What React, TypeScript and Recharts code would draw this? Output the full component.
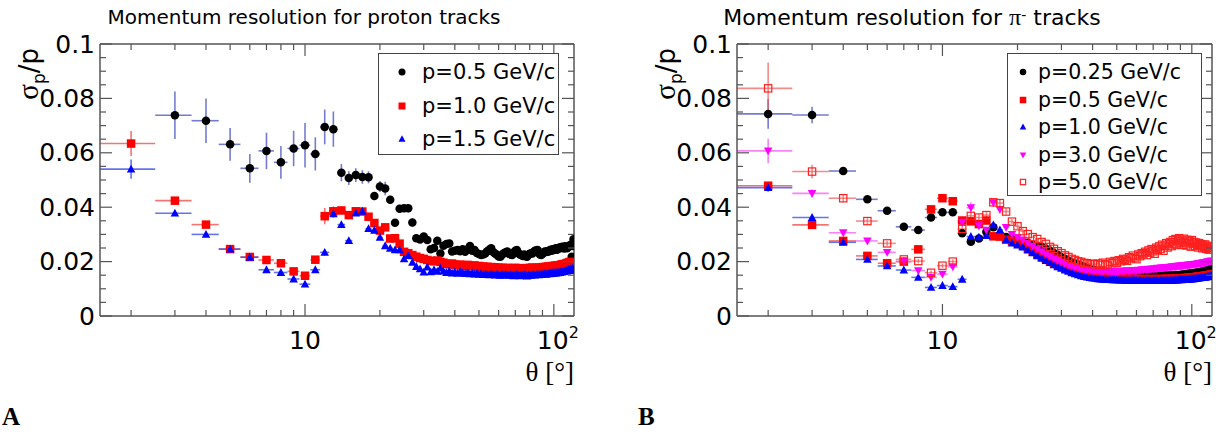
import React from 'react';
import { ScatterChart, Scatter, XAxis, YAxis, ErrorBar, ReferenceLine, Legend } from 'recharts';

// ---------------- data ----------------
const ANGLES = [
  2, 3, 4, 5, 6, 7, 8, 9, 10, 11,
  12, 13, 14, 15, 16, 17, 18, 19, 20, 21,
  22, 23, 24, 25, 26, 27, 28, 29, 30, 31,
  32, 33, 34, 35, 36, 37, 38, 39, 40, 41,
  42, 43, 44, 45, 46, 47, 48, 49, 50, 51,
  52, 53, 54, 55, 56, 57, 58, 59, 60, 61,
  62, 63, 64, 65, 66, 67, 68, 69, 70, 71,
  72, 73, 74, 75, 76, 77, 78, 79, 80, 81,
  82, 83, 84, 85, 86, 87, 88, 89, 90, 91,
  92, 93, 94, 95, 96, 97, 98, 99, 100, 101,
  102, 103, 104, 105, 106, 107, 108, 109, 110, 111,
  112, 113, 114, 115, 116, 117, 118, 119, 120,
];

// Panel A: protons
const PROTON_P05 = [
  null, 0.0738, 0.0718, 0.0631, 0.0543, 0.0607, 0.0565, 0.0616, 0.0628, 0.0596,
  0.0695, 0.0687, 0.0527, 0.0507, 0.0518, 0.0511, 0.0510, 0.0441, 0.0476, 0.0469,
  0.0427, 0.0343, 0.0394, 0.0396, 0.0396, 0.0344, 0.0286, 0.0281, 0.0292, 0.0279,
  0.0245, 0.0250, 0.0277, 0.0230, 0.0258, 0.0265, 0.0267, 0.0237, 0.0240, 0.0243,
  0.0238, 0.0245, 0.0236, 0.0245, 0.0257, 0.0240, 0.0243, 0.0232, 0.0228, 0.0224,
  0.0226, 0.0230, 0.0238, 0.0244, 0.0249, 0.0235, 0.0230, 0.0225, 0.0219, 0.0218,
  0.0226, 0.0231, 0.0234, 0.0237, 0.0229, 0.0226, 0.0224, 0.0233, 0.0240, 0.0243,
  0.0232, 0.0226, 0.0224, 0.0221, 0.0226, 0.0220, 0.0218, 0.0225, 0.0229, 0.0231,
  0.0230, 0.0236, 0.0240, 0.0241, 0.0243, 0.0232, 0.0226, 0.0224, 0.0229, 0.0233,
  0.0237, 0.0235, 0.0238, 0.0236, 0.0241, 0.0244, 0.0240, 0.0245, 0.0243, 0.0247,
  0.0249, 0.0244, 0.0250, 0.0248, 0.0253, 0.0250, 0.0255, 0.0251, 0.0248, 0.0256,
  0.0252, 0.0249, 0.0254, 0.0258, 0.0256, 0.0262, 0.0218, 0.0257, 0.0282,
];
const PROTON_P05_ERR = [
  0, 0.0087, 0.0082, 0.0060, 0.0053, 0.0067, 0.0060, 0.0065, 0.0082, 0.0061,
  0.0064, 0.0065, 0.0032, 0.0025, 0.0025, 0.0025, 0.0022, 0.0015, 0.0020, 0.0025,
  0.0015, 0.0012, 0.0015, 0.0015, 0.0015, 0.0015, 0.0010, 0.0010, 0.0010, 0.0010,
];
const PROTON_P10 = [
  0.0634, 0.0424, 0.0336, 0.0246, 0.0217, 0.0206, 0.0194, 0.0164, 0.0148, 0.0207,
  0.0367, 0.0385, 0.0388, 0.0371, 0.0385, 0.0384, 0.0365, 0.0342, 0.0314, 0.0326,
  0.0285, 0.0286, 0.0266, 0.0236, 0.0231, 0.0224, 0.0218, 0.0213, 0.0210, 0.0206,
  0.0203, 0.0201, 0.0204, 0.0199, 0.0196, 0.0192, 0.0190, 0.0193, 0.0189, 0.0186,
  0.0189, 0.0187, 0.0184, 0.0188, 0.0185, 0.0183, 0.0186, 0.0182, 0.0184, 0.0180,
  0.0182, 0.0179, 0.0181, 0.0178, 0.0180, 0.0177, 0.0179, 0.0176, 0.0178, 0.0175,
  0.0177, 0.0176, 0.0174, 0.0177, 0.0175, 0.0173, 0.0176, 0.0174, 0.0177, 0.0175,
  0.0173, 0.0176, 0.0174, 0.0172, 0.0175, 0.0173, 0.0176, 0.0174, 0.0177, 0.0175,
  0.0178, 0.0176, 0.0174, 0.0177, 0.0175, 0.0178, 0.0176, 0.0179, 0.0177, 0.0180,
  0.0178, 0.0181, 0.0179, 0.0182, 0.0180, 0.0183, 0.0181, 0.0184, 0.0182, 0.0185,
  0.0183, 0.0186, 0.0184, 0.0187, 0.0185, 0.0188, 0.0190, 0.0188, 0.0191, 0.0189,
  0.0193, 0.0195, 0.0192, 0.0197, 0.0199, 0.0196, 0.0193, 0.0188, 0.0180,
];
const PROTON_P10_ERR = [
  0.0046, 0.0010, 0.0008, 0.0006, 0.0006, 0.0006, 0.0006, 0.0006, 0.0006, 0.0008,
  0.0030, 0.0018, 0.0015, 0.0015, 0.0015, 0.0012, 0.0010, 0.0010, 0.0010, 0.0010,
];
const PROTON_P15 = [
  0.0540, 0.0378, 0.0300, 0.0246, 0.0216, 0.0170, 0.0160, 0.0136, 0.0117, 0.0170,
  0.0234, 0.0376, 0.0336, 0.0277, 0.0378, 0.0385, 0.0321, 0.0315, 0.0289, 0.0258,
  0.0249, 0.0243, 0.0243, 0.0210, 0.0222, 0.0197, 0.0182, 0.0173, 0.0161, 0.0180,
  0.0162, 0.0170, 0.0164, 0.0176, 0.0165, 0.0160, 0.0166, 0.0158, 0.0162, 0.0157,
  0.0163, 0.0159, 0.0156, 0.0160, 0.0155, 0.0158, 0.0154, 0.0157, 0.0153, 0.0156,
  0.0152, 0.0155, 0.0153, 0.0151, 0.0154, 0.0152, 0.0150, 0.0153, 0.0151, 0.0149,
  0.0152, 0.0150, 0.0153, 0.0151, 0.0149, 0.0152, 0.0150, 0.0148, 0.0151, 0.0153,
  0.0150, 0.0148, 0.0151, 0.0149, 0.0152, 0.0150, 0.0147, 0.0150, 0.0152, 0.0149,
  0.0151, 0.0153, 0.0150, 0.0152, 0.0154, 0.0151, 0.0153, 0.0155, 0.0152, 0.0154,
  0.0156, 0.0153, 0.0155, 0.0157, 0.0155, 0.0158, 0.0156, 0.0159, 0.0157, 0.0160,
  0.0158, 0.0161, 0.0159, 0.0162, 0.0160, 0.0163, 0.0161, 0.0165, 0.0163, 0.0166,
  0.0168, 0.0165, 0.0170, 0.0172, 0.0168, 0.0174, 0.0170, 0.0176, 0.0168,
];
const PROTON_P15_ERR = [
  0.0035, 0.0008, 0.0006, 0.0005, 0.0005, 0.0005, 0.0005, 0.0005, 0.0005, 0.0006,
  0.0012, 0.0015, 0.0010, 0.0008, 0.0008, 0.0008, 0.0006, 0.0006, 0.0006, 0.0006,
];

// Panel B: pi- tracks
const PION_P025 = [
  0.0743, 0.0739, 0.0533, 0.0429, 0.0387, 0.0328, 0.0316, 0.0362, 0.0381, 0.0381,
  0.0304, 0.0273, 0.0285, 0.0310, 0.0326, 0.0294, 0.0290, 0.0284, 0.0279, 0.0272,
  0.0269, 0.0262, 0.0258, 0.0254, 0.0247, 0.0240, 0.0232, 0.0224, 0.0216, 0.0210,
  0.0203, 0.0197, 0.0193, 0.0189, 0.0184, 0.0180, 0.0176, 0.0173, 0.0170, 0.0168,
  0.0165, 0.0163, 0.0161, 0.0160, 0.0158, 0.0157, 0.0155, 0.0154, 0.0153, 0.0152,
  0.0151, 0.0150, 0.0150, 0.0149, 0.0149, 0.0148, 0.0148, 0.0147, 0.0148, 0.0147,
  0.0147, 0.0146, 0.0147, 0.0146, 0.0147, 0.0146, 0.0147, 0.0147, 0.0146, 0.0147,
  0.0147, 0.0148, 0.0147, 0.0148, 0.0147, 0.0148, 0.0148, 0.0149, 0.0148, 0.0149,
  0.0149, 0.0150, 0.0149, 0.0150, 0.0150, 0.0151, 0.0150, 0.0151, 0.0151, 0.0152,
  0.0152, 0.0153, 0.0153, 0.0154, 0.0154, 0.0155, 0.0155, 0.0156, 0.0156, 0.0157,
  0.0158, 0.0158, 0.0159, 0.0160, 0.0160, 0.0161, 0.0162, 0.0163, 0.0163, 0.0164,
  0.0165, 0.0166, 0.0167, 0.0168, 0.0169, 0.0170, 0.0171, 0.0172, 0.0173,
];
const PION_P025_ERR = [
  0.0055, 0.0030, 0.0010, 0.0010, 0.0008, 0.0008, 0.0008, 0.0008, 0.0008, 0.0008,
  0.0008, 0.0008, 0.0008, 0.0008, 0.0008, 0.0008,
];
const PION_P05 = [
  0.0479, 0.0335, 0.0276, 0.0221, 0.0194, 0.0200, 0.0245, 0.0392, 0.0433, 0.0422,
  0.0351, 0.0348, 0.0338, 0.0351, 0.0293, 0.0292, 0.0281, 0.0276, 0.0268, 0.0259,
  0.0248, 0.0237, 0.0227, 0.0218, 0.0210, 0.0202, 0.0195, 0.0188, 0.0182, 0.0176,
  0.0171, 0.0166, 0.0162, 0.0158, 0.0155, 0.0152, 0.0150, 0.0148, 0.0146, 0.0145,
  0.0144, 0.0143, 0.0142, 0.0141, 0.0141, 0.0140, 0.0140, 0.0139, 0.0139, 0.0138,
  0.0138, 0.0138, 0.0137, 0.0137, 0.0137, 0.0136, 0.0137, 0.0136, 0.0136, 0.0136,
  0.0135, 0.0136, 0.0135, 0.0136, 0.0135, 0.0135, 0.0136, 0.0135, 0.0135, 0.0136,
  0.0135, 0.0136, 0.0135, 0.0136, 0.0136, 0.0135, 0.0136, 0.0136, 0.0137, 0.0136,
  0.0137, 0.0136, 0.0137, 0.0137, 0.0138, 0.0137, 0.0138, 0.0138, 0.0139, 0.0138,
  0.0139, 0.0139, 0.0140, 0.0139, 0.0140, 0.0140, 0.0141, 0.0141, 0.0142, 0.0142,
  0.0142, 0.0143, 0.0143, 0.0144, 0.0144, 0.0145, 0.0145, 0.0146, 0.0146, 0.0147,
  0.0147, 0.0148, 0.0148, 0.0149, 0.0150, 0.0150, 0.0151, 0.0152, 0.0153,
];
const PION_P05_ERR = [
  0.0015, 0.0008, 0.0008, 0.0006, 0.0006, 0.0006, 0.0006, 0.0008, 0.0008, 0.0008,
];
const PION_P10 = [
  0.0472, 0.0362, 0.0271, 0.0208, 0.0184, 0.0169, 0.0142, 0.0105, 0.0112, 0.0108,
  0.0135, 0.0292, 0.0290, 0.0296, 0.0335, 0.0316, 0.0280, 0.0268, 0.0261, 0.0253,
  0.0242, 0.0232, 0.0221, 0.0212, 0.0204, 0.0196, 0.0188, 0.0181, 0.0175, 0.0169,
  0.0164, 0.0159, 0.0155, 0.0151, 0.0148, 0.0145, 0.0143, 0.0141, 0.0139, 0.0138,
  0.0137, 0.0136, 0.0135, 0.0135, 0.0134, 0.0134, 0.0133, 0.0133, 0.0133, 0.0132,
  0.0132, 0.0132, 0.0131, 0.0132, 0.0131, 0.0131, 0.0132, 0.0131, 0.0131, 0.0130,
  0.0131, 0.0130, 0.0131, 0.0130, 0.0131, 0.0130, 0.0130, 0.0131, 0.0130, 0.0131,
  0.0130, 0.0131, 0.0130, 0.0131, 0.0131, 0.0130, 0.0131, 0.0131, 0.0132, 0.0131,
  0.0132, 0.0131, 0.0132, 0.0132, 0.0133, 0.0132, 0.0133, 0.0133, 0.0134, 0.0133,
  0.0134, 0.0134, 0.0135, 0.0134, 0.0135, 0.0135, 0.0136, 0.0136, 0.0137, 0.0137,
  0.0137, 0.0138, 0.0138, 0.0139, 0.0139, 0.0140, 0.0140, 0.0141, 0.0141, 0.0142,
  0.0142, 0.0143, 0.0143, 0.0144, 0.0145, 0.0145, 0.0146, 0.0147, 0.0148,
];
const PION_P10_ERR = [
  0.0015, 0.0010, 0.0006, 0.0006, 0.0006, 0.0006, 0.0006, 0.0006, 0.0006, 0.0006,
];
const PION_P30 = [
  0.0607, 0.0451, 0.0306, 0.0276, 0.0234, 0.0200, 0.0167, 0.0142, 0.0154, 0.0181,
  0.0345, 0.0398, 0.0332, 0.0316, 0.0417, 0.0392, 0.0326, 0.0300, 0.0289, 0.0280,
  0.0268, 0.0257, 0.0247, 0.0237, 0.0228, 0.0219, 0.0211, 0.0204, 0.0198, 0.0192,
  0.0187, 0.0183, 0.0179, 0.0176, 0.0173, 0.0171, 0.0169, 0.0168, 0.0167, 0.0166,
  0.0165, 0.0166, 0.0164, 0.0165, 0.0163, 0.0164, 0.0163, 0.0165, 0.0163, 0.0164,
  0.0166, 0.0164, 0.0165, 0.0167, 0.0165, 0.0166, 0.0168, 0.0166, 0.0167, 0.0169,
  0.0168, 0.0170, 0.0169, 0.0171, 0.0170, 0.0172, 0.0171, 0.0173, 0.0172, 0.0174,
  0.0174, 0.0176, 0.0175, 0.0177, 0.0176, 0.0178, 0.0177, 0.0179, 0.0178, 0.0180,
  0.0179, 0.0181, 0.0180, 0.0182, 0.0181, 0.0183, 0.0182, 0.0184, 0.0183, 0.0185,
  0.0184, 0.0186, 0.0185, 0.0187, 0.0186, 0.0188, 0.0187, 0.0189, 0.0188, 0.0190,
  0.0189, 0.0191, 0.0190, 0.0192, 0.0191, 0.0193, 0.0192, 0.0194, 0.0194, 0.0196,
  0.0195, 0.0197, 0.0197, 0.0199, 0.0198, 0.0200, 0.0201, 0.0202, 0.0203,
];
const PION_P30_ERR = [
  0.0045, 0.0015, 0.0010, 0.0008, 0.0008, 0.0008, 0.0008, 0.0008, 0.0008, 0.0008,
  0.0015, 0.0020, 0.0012, 0.0010, 0.0015, 0.0015, 0.0010, 0.0008, 0.0008, 0.0008,
];
const PION_P50 = [
  0.0837, 0.0531, 0.0433, 0.0349, 0.0267, 0.0208, 0.0202, 0.0159, 0.0185, 0.0200,
  0.0320, 0.0368, 0.0362, 0.0371, 0.0418, 0.0415, 0.0384, 0.0347, 0.0330, 0.0312,
  0.0301, 0.0290, 0.0283, 0.0272, 0.0265, 0.0254, 0.0247, 0.0238, 0.0231, 0.0223,
  0.0217, 0.0210, 0.0206, 0.0201, 0.0199, 0.0195, 0.0194, 0.0192, 0.0191, 0.0190,
  0.0193, 0.0188, 0.0196, 0.0191, 0.0186, 0.0199, 0.0194, 0.0202, 0.0196, 0.0205,
  0.0201, 0.0210, 0.0207, 0.0203, 0.0216, 0.0212, 0.0222, 0.0215, 0.0209, 0.0226,
  0.0220, 0.0231, 0.0227, 0.0236, 0.0224, 0.0241, 0.0233, 0.0246, 0.0238, 0.0229,
  0.0251, 0.0243, 0.0256, 0.0247, 0.0262, 0.0240, 0.0258, 0.0268, 0.0252, 0.0264,
  0.0272, 0.0257, 0.0279, 0.0266, 0.0283, 0.0261, 0.0275, 0.0286, 0.0268, 0.0278,
  0.0262, 0.0284, 0.0271, 0.0259, 0.0280, 0.0267, 0.0276, 0.0255, 0.0279, 0.0265,
  0.0272, 0.0257, 0.0270, 0.0262, 0.0252, 0.0268, 0.0259, 0.0264, 0.0249, 0.0261,
  0.0254, 0.0263, 0.0247, 0.0258, 0.0251, 0.0244, 0.0256, 0.0249, 0.0252,
];
const PION_P50_ERR = [
  0.0095, 0.0025, 0.0015, 0.0012, 0.0010, 0.0008, 0.0008, 0.0008, 0.0008, 0.0008,
  0.0015, 0.0012, 0.0012, 0.0012, 0.0015, 0.0015, 0.0012, 0.0010, 0.0010, 0.0010,
];

const X_TICKS = [2, 3, 4, 5, 6, 7, 8, 9, 10, 20, 30, 40, 50, 60, 70, 80, 90, 100];
const X_MAJOR = [10, 100];
const Y_TICKS = [
  0, 0.005, 0.01, 0.015, 0.02, 0.025, 0.03, 0.035, 0.04, 0.045, 0.05,
  0.055, 0.06, 0.065, 0.07, 0.075, 0.08, 0.085, 0.09, 0.095, 0.1,
];
const Y_LABELS = [0, 0.02, 0.04, 0.06, 0.08, 0.1];
const X_DOMAIN = [1.5, 120.5];
const Y_DOMAIN = [0, 0.1];
const BIN_HALF_WIDTH = 0.5;

// ---------------- styling ----------------
const SANS = '"DejaVu Sans", "Liberation Sans", Arial, sans-serif';
const SERIF = '"Liberation Serif", "Times New Roman", serif';
const FRAME = '#555555';
const PANEL_W = 608;
const PANEL_H = 436;
const M_TOP = 44;
const PLOT_H = 272;
const Y_AXIS_W = 60;
const X_AXIS_H = 30;

type Pt = { x: number; y: number; xe: number; ye: number };

function build(values: (number | null)[], errors: number[]): Pt[] {
  const out: Pt[] = [];
  values.forEach((v, i) => {
    if (v == null) return;
    out.push({ x: ANGLES[i], y: v, xe: BIN_HALF_WIDTH, ye: errors[i] ?? 0 });
  });
  return out;
}

type Kind = 'circle' | 'square' | 'triUp' | 'triDown' | 'openSquare';

function Marker({ kind, cx, cy, color, size }: { kind: Kind; cx: number; cy: number; color: string; size: number }) {
  if (cx == null || cy == null || isNaN(cx) || isNaN(cy)) return null;
  const h = size / 2;
  switch (kind) {
    case 'circle':
      return <circle cx={cx} cy={cy} r={h} fill={color} />;
    case 'square':
      return <rect x={cx - h} y={cy - h} width={size} height={size} fill={color} />;
    case 'openSquare':
      return <rect x={cx - h + 0.6} y={cy - h + 0.6} width={size - 1.2} height={size - 1.2} fill="none" stroke={color} strokeWidth={1.2} />;
    case 'triUp':
      return <polygon points={`${cx},${cy - h * 1.05} ${cx - h},${cy + h * 0.8} ${cx + h},${cy + h * 0.8}`} fill={color} />;
    case 'triDown':
      return <polygon points={`${cx},${cy + h * 1.05} ${cx - h},${cy - h * 0.8} ${cx + h},${cy - h * 0.8}`} fill={color} />;
  }
  return null;
}

type SeriesDef = {
  key: string;
  label: string;
  values: (number | null)[];
  errors: number[];
  kind: Kind;
  color: string;
  errColor: string;
};

const PROTON_SERIES: SeriesDef[] = [
  { key: 'p05', label: 'p=0.5 GeV/c', values: PROTON_P05, errors: PROTON_P05_ERR, kind: 'circle', color: '#000000', errColor: 'rgba(70,80,190,0.75)' },
  { key: 'p10', label: 'p=1.0 GeV/c', values: PROTON_P10, errors: PROTON_P10_ERR, kind: 'square', color: '#ff0000', errColor: 'rgba(240,70,70,0.75)' },
  { key: 'p15', label: 'p=1.5 GeV/c', values: PROTON_P15, errors: PROTON_P15_ERR, kind: 'triUp', color: '#0000ff', errColor: 'rgba(50,70,230,0.75)' },
];

const PION_SERIES: SeriesDef[] = [
  { key: 'p025', label: 'p=0.25 GeV/c', values: PION_P025, errors: PION_P025_ERR, kind: 'circle', color: '#000000', errColor: 'rgba(70,80,190,0.75)' },
  { key: 'p05', label: 'p=0.5 GeV/c', values: PION_P05, errors: PION_P05_ERR, kind: 'square', color: '#ff0000', errColor: 'rgba(240,70,70,0.75)' },
  { key: 'p10', label: 'p=1.0 GeV/c', values: PION_P10, errors: PION_P10_ERR, kind: 'triUp', color: '#0000ff', errColor: 'rgba(50,70,230,0.75)' },
  { key: 'p30', label: 'p=3.0 GeV/c', values: PION_P30, errors: PION_P30_ERR, kind: 'triDown', color: '#ff00ff', errColor: 'rgba(245,90,245,0.75)' },
  { key: 'p50', label: 'p=5.0 GeV/c', values: PION_P50, errors: PION_P50_ERR, kind: 'openSquare', color: '#ff2020', errColor: 'rgba(240,90,90,0.7)' },
];

function XTick(props: any) {
  const { x, y, payload } = props;
  const v = payload.value;
  const major = X_MAJOR.includes(v);
  const len = major ? 12 : 6;
  return (
    <g>
      <line x1={x} x2={x} y1={y} y2={y - len} stroke={FRAME} strokeWidth={1.2} />
      <line x1={x} x2={x} y1={y - PLOT_H} y2={y - PLOT_H + len} stroke={FRAME} strokeWidth={1.2} />
      {v === 10 && (
        <text x={x} y={y + 33} textAnchor="middle" fontFamily={SANS} fontSize={25} fill="#000">10</text>
      )}
      {v === 100 && (
        <text x={x + 4} y={y + 33} textAnchor="middle" fontFamily={SANS} fontSize={25} fill="#000">
          10<tspan dy={-11} fontSize={16}>2</tspan>
        </text>
      )}
    </g>
  );
}

function YTick(props: any) {
  const { x, y, payload, plotW } = props;
  const v = payload.value;
  const major = Y_LABELS.some((m) => Math.abs(m - v) < 1e-9);
  const len = major ? 12 : 6;
  return (
    <g>
      <line x1={x} x2={x + len} y1={y} y2={y} stroke={FRAME} strokeWidth={1.2} />
      <line x1={x + plotW} x2={x + plotW - len} y1={y} y2={y} stroke={FRAME} strokeWidth={1.2} />
      {major && (
        <text x={x - 5} y={y} textAnchor="end" dominantBaseline="central" fontFamily={SANS} fontSize={25} fill="#000">
          {String(v)}
        </text>
      )}
    </g>
  );
}

type LegendLayout = {
  left: number; top: number; w: number; h: number;
  rowTop: number; rowGap: number; fontSize: number; markerSize: number;
  markerX: number; textX: number;
};

function LegendBox({ series, layout }: { series: SeriesDef[]; layout: LegendLayout }) {
  return (
    <div style={{ position: 'relative', width: layout.w, height: layout.h, boxSizing: 'border-box', border: '1.5px solid #444', background: '#fff' }}>
      {series.map((s, i) => {
        const cy = layout.rowTop + i * layout.rowGap;
        return (
          <div key={s.key} style={{ position: 'absolute', left: 0, top: cy - 14, height: 28, width: '100%' }}>
            <svg width={16} height={16} style={{ position: 'absolute', left: layout.markerX - 8, top: 6 }}>
              <Marker kind={s.kind} cx={8} cy={8} color={s.color} size={layout.markerSize} />
            </svg>
            <span style={{ position: 'absolute', left: layout.textX, top: 0, lineHeight: '28px', fontFamily: SANS, fontSize: layout.fontSize, color: '#000', whiteSpace: 'nowrap' }}>
              {s.label}
            </span>
          </div>
        );
      })}
    </div>
  );
}

function Panel({ series, marginLeft, marginRight, legend }: { series: SeriesDef[]; marginLeft: number; marginRight: number; legend: LegendLayout }) {
  const plotLeft = marginLeft + Y_AXIS_W;
  const plotW = PANEL_W - plotLeft - marginRight;
  const plotRight = plotLeft + plotW;
  const plotBottom = M_TOP + PLOT_H;
  return (
    <ScatterChart
      width={PANEL_W}
      height={PANEL_H}
      margin={{ top: M_TOP, right: marginRight, bottom: PANEL_H - plotBottom - X_AXIS_H, left: marginLeft }}
    >
      <XAxis
        type="number"
        dataKey="x"
        scale="log"
        domain={X_DOMAIN}
        allowDataOverflow
        ticks={X_TICKS}
        interval={0}
        tickSize={0}
        tickMargin={0}
        tickLine={false}
        axisLine={{ stroke: FRAME, strokeWidth: 1.5 }}
        tick={(p: any) => <XTick {...p} />}
        height={X_AXIS_H}
        label={() => (
          <text x={plotRight} y={plotBottom + 65} textAnchor="end" fontFamily={SERIF} fontSize={27} fill="#000">
            θ [°]
          </text>
        )}
      />
      <YAxis
        type="number"
        dataKey="y"
        domain={Y_DOMAIN}
        allowDataOverflow
        ticks={Y_TICKS}
        interval={0}
        tickSize={0}
        tickMargin={0}
        tickLine={false}
        axisLine={{ stroke: FRAME, strokeWidth: 1.5 }}
        tick={(p: any) => <YTick {...p} plotW={plotW} />}
        width={Y_AXIS_W}
        label={() => (
          <text
            x={plotLeft - 62}
            y={M_TOP + 4}
            transform={`rotate(-90 ${plotLeft - 62} ${M_TOP + 4})`}
            textAnchor="end"
            fontFamily={SANS}
            fontSize={26}
            fill="#000"
          >
            <tspan fontFamily={SERIF} fontSize={29}>σ</tspan>
            <tspan dy={7} fontSize={17}>p</tspan>
            <tspan dy={-7}>/p</tspan>
          </text>
        )}
      />
      <ReferenceLine y={Y_DOMAIN[1]} stroke={FRAME} strokeWidth={1.5} />
      <ReferenceLine x={X_DOMAIN[1]} stroke={FRAME} strokeWidth={1.5} />
      {series.map((s) => (
        <Scatter
          key={s.key}
          name={s.label}
          data={build(s.values, s.errors)}
          isAnimationActive={false}
          shape={(p: any) => <Marker kind={s.kind} cx={p.cx} cy={p.cy} color={s.color} size={8.5} />}
        >
          <ErrorBar dataKey="ye" direction="y" width={0} stroke={s.errColor} strokeWidth={1.6} />
          <ErrorBar dataKey="xe" direction="x" width={0} stroke={s.errColor} strokeWidth={1.6} />
        </Scatter>
      ))}
      <Legend
        layout="vertical"
        align="center"
        verticalAlign="middle"
        wrapperStyle={{ left: legend.left, top: legend.top, width: legend.w, height: legend.h }}
        content={() => <LegendBox series={series} layout={legend} />}
      />
    </ScatterChart>
  );
}

export default function App() {
  return (
    <div style={{ position: 'absolute', left: 0, top: 0, width: 1216, height: 436, background: '#fff', overflow: 'hidden' }}>
      <div style={{ position: 'absolute', left: 0, top: 0 }}>
        <Panel
          series={PROTON_SERIES}
          marginLeft={40}
          marginRight={34}
          legend={{ left: 378, top: 53, w: 181, h: 102, rowTop: 18, rowGap: 33.5, fontSize: 21, markerSize: 7, markerX: 23, textX: 43 }}
        />
      </div>
      <div style={{ position: 'absolute', left: 608, top: 0 }}>
        <Panel
          series={PION_SERIES}
          marginLeft={69}
          marginRight={4}
          legend={{ left: 399, top: 53, w: 195, h: 143, rowTop: 18, rowGap: 27.5, fontSize: 20.5, markerSize: 6.5, markerX: 15, textX: 30 }}
        />
      </div>
      <div style={{ position: 'absolute', left: 0, top: 4, width: 608, textAlign: 'center', fontFamily: SANS, fontSize: 20, lineHeight: '26px', color: '#000' }}>
        Momentum resolution for proton tracks
      </div>
      <div style={{ position: 'absolute', left: 608, top: 3, width: 608, textAlign: 'center', fontFamily: SANS, fontSize: 22, lineHeight: '28px', color: '#000' }}>
        Momentum resolution for <span style={{ fontFamily: SERIF, fontSize: 24 }}>π</span>
        <sup style={{ fontSize: 14, verticalAlign: 'top', position: 'relative', top: -2 }}>-</sup> tracks
      </div>
      <div style={{ position: 'absolute', left: 2, top: 403, fontFamily: SERIF, fontWeight: 'bold', fontSize: 25, color: '#000' }}>A</div>
      <div style={{ position: 'absolute', left: 638, top: 403, fontFamily: SERIF, fontWeight: 'bold', fontSize: 25, color: '#000' }}>B</div>
    </div>
  );
}
